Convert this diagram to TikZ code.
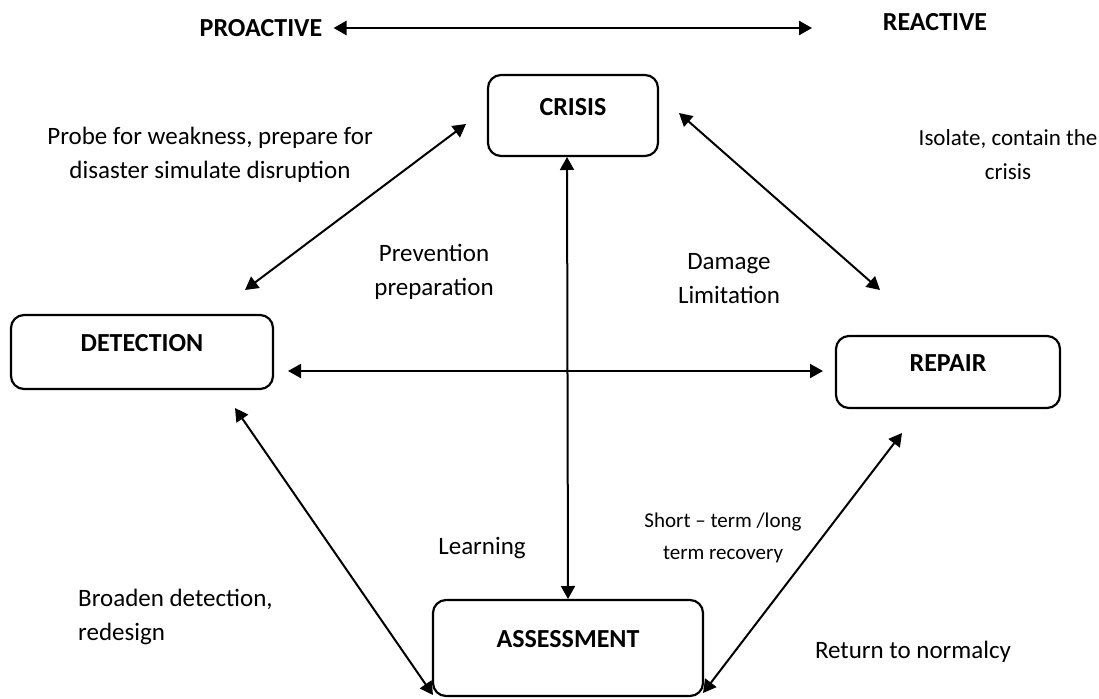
\documentclass[tikz,border=0pt]{standalone}
\usepackage{fontspec}
\setmainfont{Carlito}
\usetikzlibrary{arrows.meta}
\begin{document}
\begin{tikzpicture}[x=1pt,y=-1pt,
  stagebox/.style={draw, line width=2.2pt, rounded corners=13pt, inner sep=0pt,
    font=\fontsize{26}{30}\selectfont\bfseries, text height=14pt, text depth=15pt},
  heading/.style={inner sep=0pt, font=\fontsize{26}{30}\selectfont\bfseries},
  note/.style={inner sep=0pt, font=\fontsize{25}{34}\selectfont, align=center},
  twoway/.style={line width=2pt, {Triangle[length=13pt,width=14pt]}-{Triangle[length=13pt,width=14pt]}}
]
\useasboundingbox (0,0) rectangle (1099,698);

% stages of the cycle
\node[stagebox, minimum width=170pt, minimum height=81pt] (crisis) at (573,115.5) {CRISIS};
\node[stagebox, minimum width=262pt, minimum height=74pt] (detection) at (142,352) {DETECTION};
\node[stagebox, minimum width=224pt, minimum height=72pt] (repair) at (948,372) {REPAIR};
\node[stagebox, minimum width=270pt, minimum height=96pt] (assessment) at (568,648) {ASSESSMENT};

% scale along the top
\node[heading] (proactive) at (261,28) {PROACTIVE};
\node[heading] (reactive) at (935,22) {REACTIVE};
\coordinate (scaleend) at (812,28);
\draw[twoway, line width=2.6pt] ([xshift=11pt]proactive.east) -- (scaleend);

% links between stages
\draw[twoway] ([shift={(-107,8.5)}]crisis.center) -- ([shift={(103,-62)}]detection.center);
\draw[twoway] ([shift={(106,-2.5)}]crisis.center) -- ([shift={(-68,-82)}]repair.center);
\draw[twoway] ([shift={(-6,41.5)}]crisis.center) -- ([shift={(0,-49)}]assessment.center);
\draw[twoway] ([shift={(146,19)}]detection.center) -- ([shift={(-125,-1)}]repair.center);
\draw[twoway] ([shift={(93,56)}]detection.center) -- ([shift={(-135,47)}]assessment.center);
\draw[twoway] ([shift={(-46,61)}]repair.center) -- ([shift={(135,45)}]assessment.center);

% annotations
\node[note] (probe) at (210,155) {Probe for weakness, prepare for\\disaster simulate disruption};
\node[note, font=\fontsize{23}{34}\selectfont] (isolate) at (1008,155) {Isolate, contain the\\crisis};
\node[note] (prevent) at (434,272) {Prevention\\preparation};
\node[note] (damage) at (729,279) {Damage\\Limitation};
\node[note] (learning) at (482,548) {Learning};
\node[note, font=\fontsize{21}{32}\selectfont] (shortterm) at (723,538) {Short -- term /long\\term recovery};
\node[note, align=left, anchor=west] (broaden) at (78,617) {Broaden detection,\\redesign};
\node[note] (normalcy) at (913,652) {Return to normalcy};
\end{tikzpicture}
\end{document}
